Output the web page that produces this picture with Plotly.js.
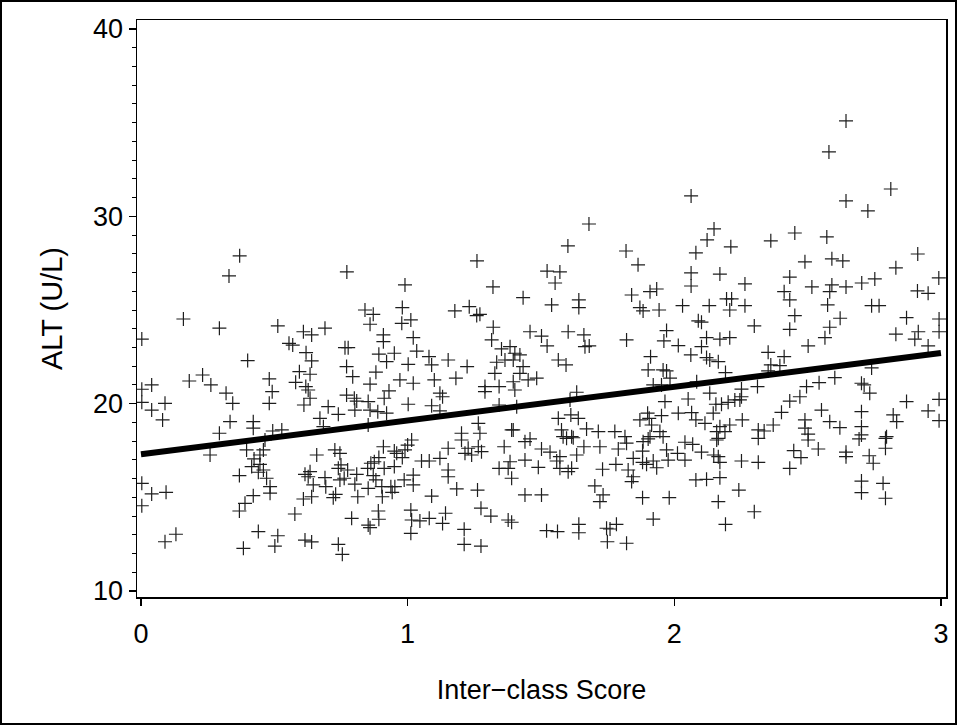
<!DOCTYPE html>
<html><head><meta charset="utf-8">
<script src="https://cdn.plot.ly/plotly-3.0.1.min.js"></script>
<style>
html,body{margin:0;padding:0;background:#fff;}
#wrap{position:relative;width:957px;height:725px;}
#chart{width:957px;height:725px;}
#frame{position:absolute;left:0;top:0;width:957px;height:725px;box-sizing:border-box;border:2px solid #000;pointer-events:none;}
</style>
</head><body>
<div id="wrap"><div id="chart"></div><div id="frame"></div></div>
<script>
// Inter-class score (x) and ALT (y)
const scoreX = [
0.37,0.33,0.772,0.99,1.26,1.32,2.063,1.68,1.601,1.819,1.864,2.149,2.123,2.081,1.523,1.571,1.553,2.063,2.063,
2.644,2.58,2.812,2.644,2.726,2.212,2.362,2.452,2.572,2.49,2.591,2.632,2.913,2.831,2.171,2.265,2.433,2.516,2.591,2.644,2.703,2.752,2.992,
0.003,0.159,0.294,0.4,0.513,0.609,0.555,0.569,0.619,0.594,0.58,0.618,0.611,0.003,0.04,0.003,0.04,0.09,0.081,0.181,0.231,0.262,0.319,0.344,0.334,0.294,0.421,0.421,0.481,0.492,0.481,0.494,0.528,
0.84,0.871,0.98,0.978,1.012,0.859,1.177,1.231,1.259,1.271,0.69,0.64,0.909,0.909,1.021,1.321,1.315,0.765,0.777,0.64,0.892,0.95,0.921,1.034,1.08,1.09,1.152,1.223,1.002,0.771,0.794,0.881,1.352,1.384,1.334,1.365,1.327,0.634,0.971,1.021,1.1,1.181,0.859,0.93,1.29,1.29,1.343,0.771,0.8,0.809,0.634,0.627,0.912,0.852,1.121,1.131,0.702,0.802,0.859,0.888,0.921,1.002,1.09,1.121,0.74,0.671,0.684,0.852,1.202,1.265,1.271,1.343,1.39,
1.433,1.54,1.642,1.642,1.84,1.909,1.934,1.871,1.883,1.943,2.031,2.131,2.09,2.102,1.459,1.502,1.602,1.661,1.523,1.665,1.681,1.821,1.971,1.961,2.015,2.121,2.102,2.062,2.121,2.133,1.911,1.902,1.958,1.971,1.984,1.565,1.594,1.402,1.421,1.396,1.433,1.421,1.452,1.484,1.396,1.402,1.634,1.609,1.921,1.952,2.084,2.133,1.965,2.052,2.156,1.409,1.565,1.612,1.64,1.871,1.9,1.906,1.915,1.952,2.015,2.065,2.081,2.115,2.146,1.396,1.577,1.671,1.715,1.777,1.815,1.909,1.946,2.159,1.583,1.615,
2.412,2.583,2.912,2.952,2.196,2.215,2.208,2.265,2.433,2.575,2.74,2.768,2.452,2.622,2.871,2.993,2.3,2.433,2.583,2.831,2.915,2.993,2.171,2.208,2.565,2.902,2.502,2.952,2.352,2.412,2.165,2.362,2.396,2.352,2.192,2.602,2.74,2.312,2.252,2.496,2.543,2.702,2.712,2.733,2.252,2.246,2.471,2.433,2.177,2.202,2.227,2.871,2.993,2.552,2.402,2.702,2.952,2.255,2.371,2.49,2.583,2.621,2.702,2.821,2.834,2.993,2.171,2.208,2.19,2.315,2.337,2.49,2.502,2.702,2.796,
0.259,0.369,0.415,0.424,0.446,0.459,0.446,0.44,0.459,0.471,0.484,0.484,0.421,0.39,0.369,0.003,0.003,0.04,0.094,0.09,0.131,0.44,0.384,0.513,0.502,0.577,0.609,0.615,0.615,0.465,0.396,
0.659,0.634,0.627,0.646,0.69,0.693,0.64,0.727,0.746,0.75,0.74,0.775,0.762,0.746,0.809,0.802,0.73,0.721,0.813,0.852,0.862,0.875,0.85,0.892,0.909,0.912,0.871,0.881,0.903,0.905,0.95,0.959,0.98,0.99,1.0,1.015,0.95,0.937,0.952,0.942,0.987,1.021,1.021,1.052,1.081,1.121,1.152,1.152,1.152,1.202,1.215,1.227,1.24,1.265,1.277,1.362,1.343,1.377,1.384,1.39,1.09,1.184,1.262,1.012,1.015,1.046,1.081,1.142,1.131,1.275,1.312,1.377,1.39,1.212,1.212,1.275,1.012,0.89,0.892,0.852,0.859,0.79,0.64,0.74,0.755,
1.44,1.459,1.596,1.621,1.661,1.721,1.79,1.821,1.883,1.902,1.958,2.04,2.069,2.159,1.502,1.534,1.571,1.559,1.634,1.881,1.881,1.846,1.971,2.012,1.977,2.04,1.921,1.896,1.934,2.102,2.148,1.44,1.49,1.571,1.602,1.615,1.731,1.781,1.827,1.846,1.84,1.702,1.733,1.721,1.44,1.502,1.881,1.981,2.081,2.121,1.921,1.521,1.562,1.642,1.642,1.746,1.759,1.783,1.749,1.821,
2.165,2.315,2.502,2.693,2.792,2.792,2.54,2.448,2.475,2.644,2.644,2.731,2.746,2.165,2.171,2.252,2.315,2.433,2.171,2.702,2.702,2.783,2.792,2.242,2.165,2.3,2.192
];
const altY = [
27.89,26.82,27.03,26.34,27.62,26.23,31.09,29.59,28.42,28.15,27.41,29.33,28.74,28.05,27.08,27.03,26.44,26.98,26.28,
35.09,33.44,31.46,30.82,30.29,28.37,28.69,29.11,28.9,27.57,27.73,27.62,27.99,27.25,26.92,26.39,26.76,26.23,26.34,26.23,26.44,26.66,26.71,
23.45,24.52,24.03,22.3,24.15,23.84,23.22,23.13,22.72,21.71,21.14,20.91,19.93,20.77,21.0,20.07,19.66,20.02,19.13,21.21,21.53,21.0,20.56,20.02,19.04,18.42,19.04,18.69,21.32,20.64,20.02,18.54,18.6,
25.0,24.77,25.13,24.29,24.47,24.24,24.95,25.18,24.7,24.77,24.03,23.67,23.67,23.31,23.52,24.08,23.4,22.99,22.99,22.28,22.64,22.69,22.24,22.81,22.51,22.07,22.33,21.98,22.1,21.98,21.44,21.68,22.92,23.04,22.21,22.33,21.62,21.57,21.27,21.09,21.27,21.36,21.04,20.68,20.91,20.64,20.91,20.46,20.29,20.14,20.29,20.73,20.29,20.11,20.56,20.37,19.84,19.66,19.66,19.57,19.49,19.97,19.89,19.61,19.43,19.22,18.77,18.86,18.42,18.95,18.42,19.93,18.6,
25.66,25.27,25.54,25.13,25.8,25.98,26.12,25.13,24.95,25.0,25.23,25.23,24.42,24.35,23.84,23.61,23.84,23.67,23.08,23.04,23.08,23.4,23.9,23.35,23.1,23.52,23.04,22.6,22.46,22.33,22.51,21.8,21.8,21.75,21.36,22.33,22.07,22.69,22.6,22.33,21.98,21.62,21.27,21.36,21.17,20.73,20.61,20.2,21.0,21.0,21.17,20.56,20.11,20.25,19.97,19.84,19.22,19.4,19.22,19.13,19.49,19.22,18.86,19.36,19.49,19.52,19.13,18.95,19.49,18.6,18.6,18.65,18.51,18.51,18.24,18.24,18.51,18.51,18.24,18.24,
25.98,25.98,26.02,25.89,25.59,25.59,25.0,25.23,25.54,25.27,25.23,25.23,24.7,24.56,24.59,24.52,24.15,23.97,24.08,23.71,23.84,23.84,23.44,23.52,23.52,23.44,23.08,23.08,22.74,22.51,22.24,22.07,22.03,21.75,21.66,21.39,21.91,20.91,20.78,20.91,21.12,21.09,21.0,20.56,20.37,20.2,20.37,20.14,19.97,20.07,20.2,20.11,20.23,19.66,19.54,19.57,19.61,19.13,18.86,19.13,19.04,18.72,18.77,19.4,19.04,19.09,18.77,18.86,18.51,18.6,18.54,18.69,18.37,18.33,18.24,
17.26,16.16,16.64,17.05,17.26,17.53,16.76,16.34,16.46,16.02,15.57,15.22,15.09,14.68,14.27,15.75,14.55,15.18,15.27,12.63,13.03,13.17,12.28,12.95,12.4,14.11,14.91,16.23,12.72,18.06,17.53,
17.26,16.37,16.1,15.66,16.05,15.57,15.03,17.53,17.35,16.73,16.55,16.46,16.02,15.93,16.23,15.7,15.16,14.98,15.03,15.48,16.82,16.9,16.55,17.12,17.7,16.55,16.16,15.93,15.57,15.03,17.47,17.35,17.12,17.53,17.79,18.06,16.64,15.57,15.57,15.27,15.93,16.19,15.66,16.94,16.94,17.08,17.62,16.46,16.1,18.06,17.35,17.62,17.26,17.7,17.44,17.7,16.55,16.55,16.9,16.02,15.07,15.45,15.39,14.32,13.79,13.74,13.88,14.15,13.61,14.42,14.0,13.79,13.67,13.29,12.49,12.4,13.08,14.27,13.83,13.52,13.38,13.88,12.62,12.49,11.96,
17.97,18.12,18.15,18.18,17.7,17.7,17.58,17.89,17.97,18.12,18.24,17.94,17.83,18.06,17.58,17.41,17.17,16.94,17.26,17.47,16.87,17.08,17.53,17.35,16.99,16.99,16.94,16.76,16.58,17.41,17.26,16.99,16.6,16.55,16.37,16.55,16.5,16.76,16.46,16.1,15.84,15.61,15.13,14.77,15.13,15.13,14.98,14.98,15.93,15.96,13.84,13.22,13.17,13.56,13.11,13.35,13.31,13.56,12.63,12.55,
18.15,18.15,18.06,18.12,18.15,17.62,17.58,17.49,17.12,17.41,17.17,17.22,16.82,17.17,16.87,16.94,16.87,16.55,16.05,15.87,15.25,15.75,14.95,15.39,14.77,14.23,13.56
];
// fitted regression line end points
const lineX = [0, 3];
const lineY = [17.3, 22.7];
const xTickVals = [0, 1, 2, 3];
const yTickVals = [10, 20, 30, 40];
const xTitle = 'Inter\u2212class Score';
const yTitle = 'ALT (U/L)';

const FONT = '"Liberation Sans", Arial, Helvetica, sans-serif';
const traces = [
  {x: scoreX, y: altY, type: 'scatter', mode: 'markers', hoverinfo: 'skip',
   marker: {symbol: 'cross-thin-open', size: 10, color: '#1e1e1e', line: {width: 1.2, color: '#1e1e1e'}}},
  {x: lineX, y: lineY, type: 'scatter', mode: 'lines', hoverinfo: 'skip',
   line: {color: '#000', width: 6}}
];
const layout = {
  width: 957, height: 725,
  margin: {l: 137, r: 11, t: 20, b: 128, pad: 0},
  paper_bgcolor: '#fff', plot_bgcolor: '#fff',
  showlegend: false,
  font: {family: FONT, color: '#000', size: 27},
  xaxis: {
    range: [-0.015, 3.019], tickmode: 'array', tickvals: xTickVals,
    ticks: 'outside', ticklen: 7, tickwidth: 1.5, tickcolor: '#000',
    ticklabelstandoff: 5,
    showline: true, mirror: true, linecolor: '#000', linewidth: 1.5,
    showgrid: false, zeroline: false,
    tickfont: {family: FONT, size: 27, color: '#000'},
    title: {text: xTitle, font: {family: FONT, size: 27, color: '#000'}, standoff: 32}
  },
  yaxis: {
    range: [9.68, 40.48], tickmode: 'array', tickvals: yTickVals,
    ticks: 'outside', ticklen: 7, tickwidth: 1.5, tickcolor: '#000',
    minor: {tickmode: 'linear', tick0: 10, dtick: 1, ticks: 'outside', ticklen: 4, tickwidth: 1, tickcolor: '#000', showgrid: false},
    showline: true, mirror: true, linecolor: '#000', linewidth: 1.5,
    showgrid: false, zeroline: false,
    tickfont: {family: FONT, size: 27, color: '#000'},
    title: {text: yTitle, font: {family: FONT, size: 29, color: '#000'}, standoff: 22}
  }
};
Plotly.newPlot('chart', traces, layout, {staticPlot: true, displayModeBar: false});
</script>
</body></html>
